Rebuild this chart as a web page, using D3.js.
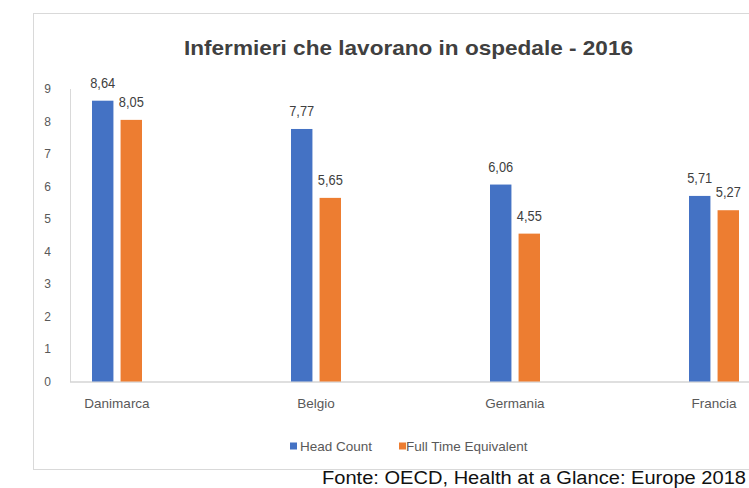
<!DOCTYPE html>
<html><head><meta charset="utf-8">
<script src="https://cdn.jsdelivr.net/npm/d3@7"></script>
<style>body{margin:0;background:#fff;}svg{display:block;font-family:"Liberation Sans",Arial,sans-serif;}</style>
</head><body>
<svg id="c" width="749" height="488"></svg>
<script>
const categories = ["Danimarca", "Belgio", "Germania", "Francia"];
const seriesNames = ["Head Count", "Full Time Equivalent"];
const headCount = [8.64, 7.77, 6.06, 5.71];
const fullTimeEq = [8.05, 5.65, 4.55, 5.27];
const yTicks = [0,1,2,3,4,5,6,7,8,9];
const colors = ["#4472C4", "#ED7D31"];
const title = "Infermieri che lavorano in ospedale - 2016";
const source = "Fonte: OECD, Health at a Glance: Europe 2018";

const svg = d3.select("#c");
const fmt = v => d3.format(".2f")(v).replace(".", ",");

// frame
svg.append("rect").attr("x",33.5).attr("y",13.5).attr("width",780).attr("height",456)
  .attr("fill","#fff").attr("stroke","#d9d9d9").attr("stroke-width",1);

// title
svg.append("text").attr("x",408.5).attr("y",55).attr("text-anchor","middle")
  .attr("font-size",21).attr("font-weight","bold").attr("fill","#404040")
  .attr("textLength",449).attr("lengthAdjust","spacingAndGlyphs").text(title);

const x = d3.scaleBand().domain(categories).range([17.5, 813.5]).paddingInner(0);
const xs = d3.scaleBand().domain(seriesNames).range([-25, 25]).paddingInner(0.25);
const y = d3.scaleLinear().domain([0, 9]).range([381.5, 89]);

// y axis labels
svg.append("g").selectAll("text").data(yTicks).join("text")
  .attr("x",51).attr("y",d=>y(d)+4).attr("text-anchor","end")
  .attr("font-size",12).attr("fill","#595959").text(d=>d);
// y axis line
svg.append("line").attr("x1",70.5).attr("x2",70.5).attr("y1",y(9)).attr("y2",y(0))
  .attr("stroke","#d9d9d9");
// baseline
svg.append("line").attr("x1",70).attr("x2",760).attr("y1",y(0)+0.5).attr("y2",y(0)+0.5)
  .attr("stroke","#bfbfbf");

const data = categories.map((c,i)=>({cat:c, vals:[headCount[i], fullTimeEq[i]]}));
const groups = svg.append("g").selectAll("g").data(data).join("g")
  .attr("transform", d=>`translate(${x(d.cat)+x.bandwidth()/2},0)`);
groups.selectAll("rect").data(d=>d.vals.map((v,j)=>({s:seriesNames[j], v, j}))).join("rect")
  .attr("x", d=>xs(d.s)).attr("width", xs.bandwidth())
  .attr("y", d=>y(d.v)).attr("height", d=>y(0)-y(d.v))
  .attr("fill", d=>colors[d.j]);
groups.selectAll("text.v").data(d=>d.vals.map((v,j)=>({s:seriesNames[j], v, j}))).join("text")
  .attr("class","v")
  .attr("x", d=>xs(d.s)+xs.bandwidth()/2).attr("y", d=>y(d.v)-13)
  .attr("text-anchor","middle").attr("font-size",14).attr("fill","#404040")
  .attr("textLength",25).attr("lengthAdjust","spacingAndGlyphs")
  .text(d=>fmt(d.v));

// category labels
svg.append("g").selectAll("text").data(categories).join("text")
  .attr("x", d=>x(d)+x.bandwidth()/2).attr("y",408)
  .attr("text-anchor","middle").attr("font-size",13.5).attr("fill","#595959")
  .text(d=>d);

// legend
const legX = [290, 399];
const leg = svg.append("g").selectAll("g").data(seriesNames).join("g")
  .attr("transform",(d,i)=>`translate(${legX[i]},446)`);
leg.append("rect").attr("x",0).attr("y",-3.5).attr("width",7).attr("height",7)
  .attr("fill",(d,i)=>colors[i]);
leg.append("text").attr("x",(d,i)=>i===0?10:7).attr("y",5).attr("font-size",13.5)
  .attr("fill","#595959").text(d=>d);

// source
svg.append("text").attr("x",322).attr("y",484).attr("font-size",18).attr("fill","#111")
  .attr("textLength",424).attr("lengthAdjust","spacingAndGlyphs").text(source);
</script>
</body></html>
